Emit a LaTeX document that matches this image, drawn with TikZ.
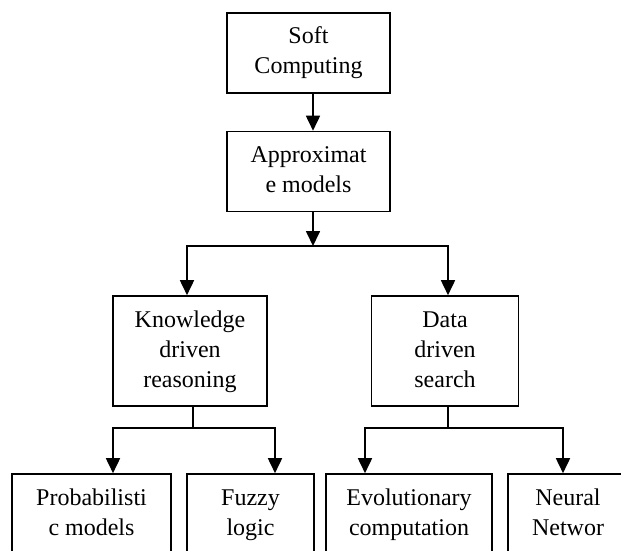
\documentclass[tikz,border=0pt]{standalone}
\usepackage{fontspec}
\setmainfont{Liberation Serif}
\usetikzlibrary{arrows.meta}
\usetikzlibrary{calc}

\begin{document}
\begin{tikzpicture}[x=1pt, y=-1pt,
    box/.style={draw, line width=1.6pt, align=center, inner xsep=0pt, inner ysep=10pt, font=\fontsize{24}{30}\selectfont},
    arrow/.style={line width=1.7pt, -{Triangle[length=15pt, width=14pt]}},
    link/.style={line width=1.7pt}]
    \useasboundingbox (0,0) rectangle (621,551);
    \clip (0,0) rectangle (621,551);
    %Soft Computing
    \node[box, minimum width=163pt] (soft) at (308.5,53) {\strut Soft\\\strut Computing};
    %Approximate models
    \node[box, minimum width=163pt] (approx) at (308.5,171.5) {\strut Approximat\\\strut e models};
    %Knowledge driven reasoning
    \node[box, minimum width=154pt] (knowledge) at (190,351) {\strut Knowledge\\\strut driven\\\strut reasoning};
    %Data driven search
    \node[box, minimum width=147pt] (data) at (445,351) {\strut Data\\\strut driven\\\strut search};
    %Probabilistic models
    \node[box, minimum width=159pt] (prob) at (91.5,514) {\strut Probabilisti\\\strut c models};
    %Fuzzy logic
    \node[box, minimum width=127pt] (fuzzy) at (250.5,514) {\strut Fuzzy\\\strut logic};
    %Evolutionary computation
    \node[box, minimum width=166pt] (evol) at (409,514) {\strut Evolutionary\\\strut computation};
    %Neural Network
    \node[box, minimum width=120pt] (neural) at (568,514) {\strut Neural\\\strut Networ};

    %junctions
    \coordinate (split) at (313,246);
    \coordinate (kjoin) at (193,428);
    \coordinate (djoin) at (448,428);

    %Soft - Approx
    \draw[arrow] (soft.south -| split) -- (approx.north -| split);
    %Approx - Knowledge, Data
    \draw[arrow] (approx.south -| split) -- (split);
    \draw[arrow] (split) -| ([xshift=-3pt]knowledge.north);
    \draw[arrow] (split) -| ([xshift=3pt]data.north);
    %Knowledge - Prob, Fuzzy
    \draw[link] (knowledge.south -| kjoin) -- (kjoin);
    \draw[arrow] (kjoin) -| ([xshift=21.5pt]prob.north);
    \draw[arrow] (kjoin) -| ([xshift=24.5pt]fuzzy.north);
    %Data - Evol, Neural
    \draw[link] (data.south -| djoin) -- (djoin);
    \draw[arrow] (djoin) -| ([xshift=-44pt]evol.north);
    \draw[arrow] (djoin) -| ([xshift=-5pt]neural.north);
\end{tikzpicture}
\end{document}
